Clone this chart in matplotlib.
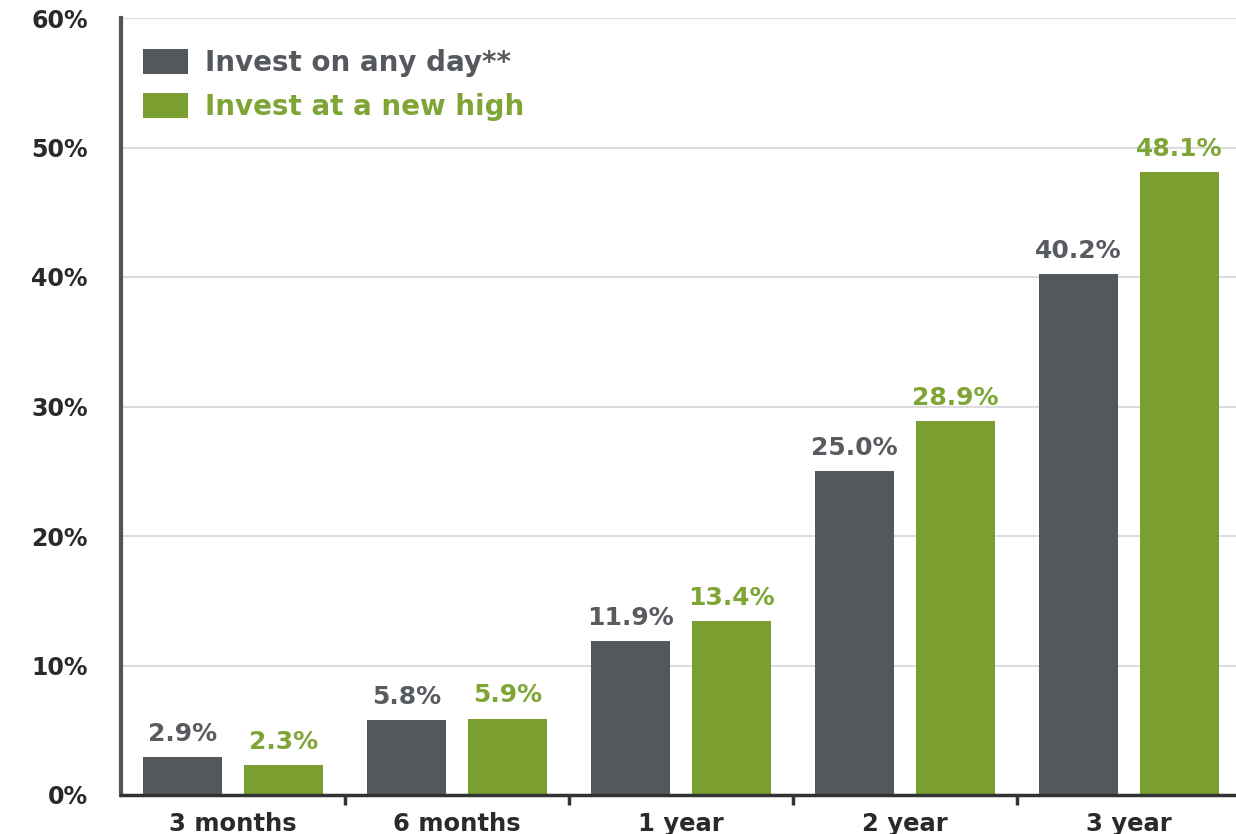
import numpy as np
import matplotlib
matplotlib.use("Agg")
import matplotlib.pyplot as plt
from matplotlib.ticker import FuncFormatter

# holding period returns, S&P 500
periods = ["3 months", "6 months", "1 year", "2 year", "3 year"]
any_day = [2.9, 5.8, 11.9, 25.0, 40.2]
new_high = [2.3, 5.9, 13.4, 28.9, 48.1]
series_names = ["Invest on any day**", "Invest at a new high"]

gray = "#55585b"
green = "#7a9e2f"
gray_txt = "#585c60"
green_txt = "#7fa536"

plt.rcParams["font.family"] = ["DejaVu Sans"]
plt.rcParams["font.weight"] = "bold"

fig = plt.figure(figsize=(12.36, 8.34), dpi=100)
ax = fig.add_axes([121 / 1236, 39 / 834, 1120 / 1236, 777 / 834])

x = np.arange(len(periods))
w = 0.35
b1 = ax.bar(x - 0.225, any_day, w, color=gray, label=series_names[0], zorder=3)
b2 = ax.bar(x + 0.225, new_high, w, color=green, label=series_names[1], zorder=3)

# value labels above each bar
for bars, vals, c in [(b1, any_day, gray_txt), (b2, new_high, green_txt)]:
    for rect, v in zip(bars, vals):
        ax.annotate(f"{v:.1f}%", (rect.get_x() + rect.get_width() / 2, v),
                    xytext=(0, 8), textcoords="offset points",
                    ha="center", va="bottom", fontsize=18,
                    fontweight="bold", color=c)

ax.set_xlim(-0.5, 4.5)
ax.set_ylim(0, 60)
ax.set_yticks(range(0, 61, 10))
ax.yaxis.set_major_formatter(FuncFormatter(lambda v, p: f"{v:.0f}%"))
ax.grid(axis="y", color="#dcdcdc", lw=1.5, zorder=0)
ax.tick_params(axis="y", length=0, pad=24, labelsize=17, labelcolor="#2a2a2a")

ax.set_xticks(x)
ax.set_xticklabels(periods)
ax.set_xticks(np.arange(0.5, 5, 1), minor=True)
ax.tick_params(axis="x", which="major", length=0, pad=12, labelsize=17.5,
               labelcolor="#2a2a2a")
ax.tick_params(axis="x", which="minor", length=7, width=2.5, color="#333333",
               direction="out")

for s in ["top", "right"]:
    ax.spines[s].set_visible(False)
ax.spines["left"].set_color("#555555")
ax.spines["left"].set_linewidth(3)
ax.spines["bottom"].set_color("#333333")
ax.spines["bottom"].set_linewidth(2.5)
ax.spines["bottom"].set_zorder(4)

leg = ax.legend(loc="upper left", bbox_to_anchor=(22 / 1120, 1 - 31 / 777),
                frameon=False, fontsize=20, handlelength=1.62,
                handleheight=0.97, handletextpad=0.6, labelspacing=0.58,
                borderpad=0, borderaxespad=0)
for t, c in zip(leg.get_texts(), ["#55595d", green_txt]):
    t.set_color(c)

fig.savefig("out.png", dpi=100)
